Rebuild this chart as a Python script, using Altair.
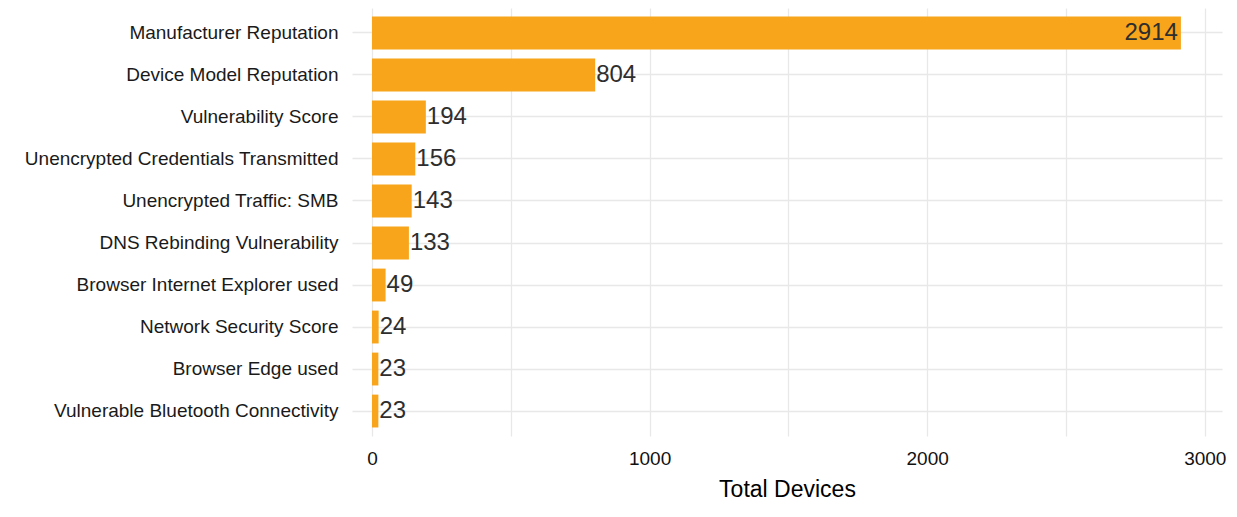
import altair as alt
import pandas as pd

categories = [
    "Manufacturer Reputation",
    "Device Model Reputation",
    "Vulnerability Score",
    "Unencrypted Credentials Transmitted",
    "Unencrypted Traffic: SMB",
    "DNS Rebinding Vulnerability",
    "Browser Internet Explorer used",
    "Network Security Score",
    "Browser Edge used",
    "Vulnerable Bluetooth Connectivity",
]
values = [2914, 804, 194, 156, 143, 133, 49, 24, 23, 23]
grid_values = [0, 500, 1000, 1500, 2000, 2500, 3000]

df = pd.DataFrame({"issue": categories, "devices": values})

FONT = "Liberation Sans"
BAR = "#F8A51B"

x_enc = alt.X(
    "devices:Q",
    scale=alt.Scale(domain=[-72, 3062], nice=False, zero=False),
    axis=alt.Axis(
        values=grid_values,
        labelExpr="datum.value % 1000 === 0 ? datum.label : ''",
        format="d",
        title="Total Devices",
        titleFontSize=23,
        titleFontWeight="normal",
        titleColor="#000000",
        titlePadding=10,
        labelFontSize=19,
        labelColor="#111111",
        labelPadding=13,
        ticks=False,
        domain=False,
        grid=True,
        gridColor="#E8E8E8",
        gridWidth=1.3,
    ),
)
y_enc = alt.Y(
    "issue:N",
    sort=categories,
    scale=alt.Scale(paddingInner=0.218, paddingOuter=0.203),
    axis=alt.Axis(
        title=None,
        grid=True,
        bandPosition=0.5,
        gridColor="#E8E8E8",
        gridWidth=1.3,
        ticks=False,
        domain=False,
        labelFontSize=19,
        labelColor="#1a1a1a",
        labelPadding=14,
        labelLimit=0,
    ),
)

base = alt.Chart(df)

bars = base.mark_bar(color=BAR).encode(x=x_enc, x2=alt.datum(0), y=y_enc)

labels_out = base.transform_filter("datum.devices < 2000").mark_text(
    align="left", baseline="middle", dx=1, fontSize=24, color="#2e2e2e"
).encode(x="devices:Q", y=alt.Y("issue:N", sort=categories), text="devices:Q")

labels_in = base.transform_filter("datum.devices >= 2000").mark_text(
    align="right", baseline="middle", dx=-3, fontSize=24, color="#2e2e2e"
).encode(x="devices:Q", y=alt.Y("issue:N", sort=categories), text="devices:Q")

chart = (
    alt.layer(bars, labels_out, labels_in)
    .properties(
        width=870,
        height=428,
        autosize=alt.AutoSizeParams(type="none"),
        padding={"left": 344, "top": 0, "right": 5, "bottom": 68},
    )
    .configure(font=FONT)
    .configure_view(stroke=None)
)

chart.save("out.html", embed_options={"renderer": "svg", "actions": False})
